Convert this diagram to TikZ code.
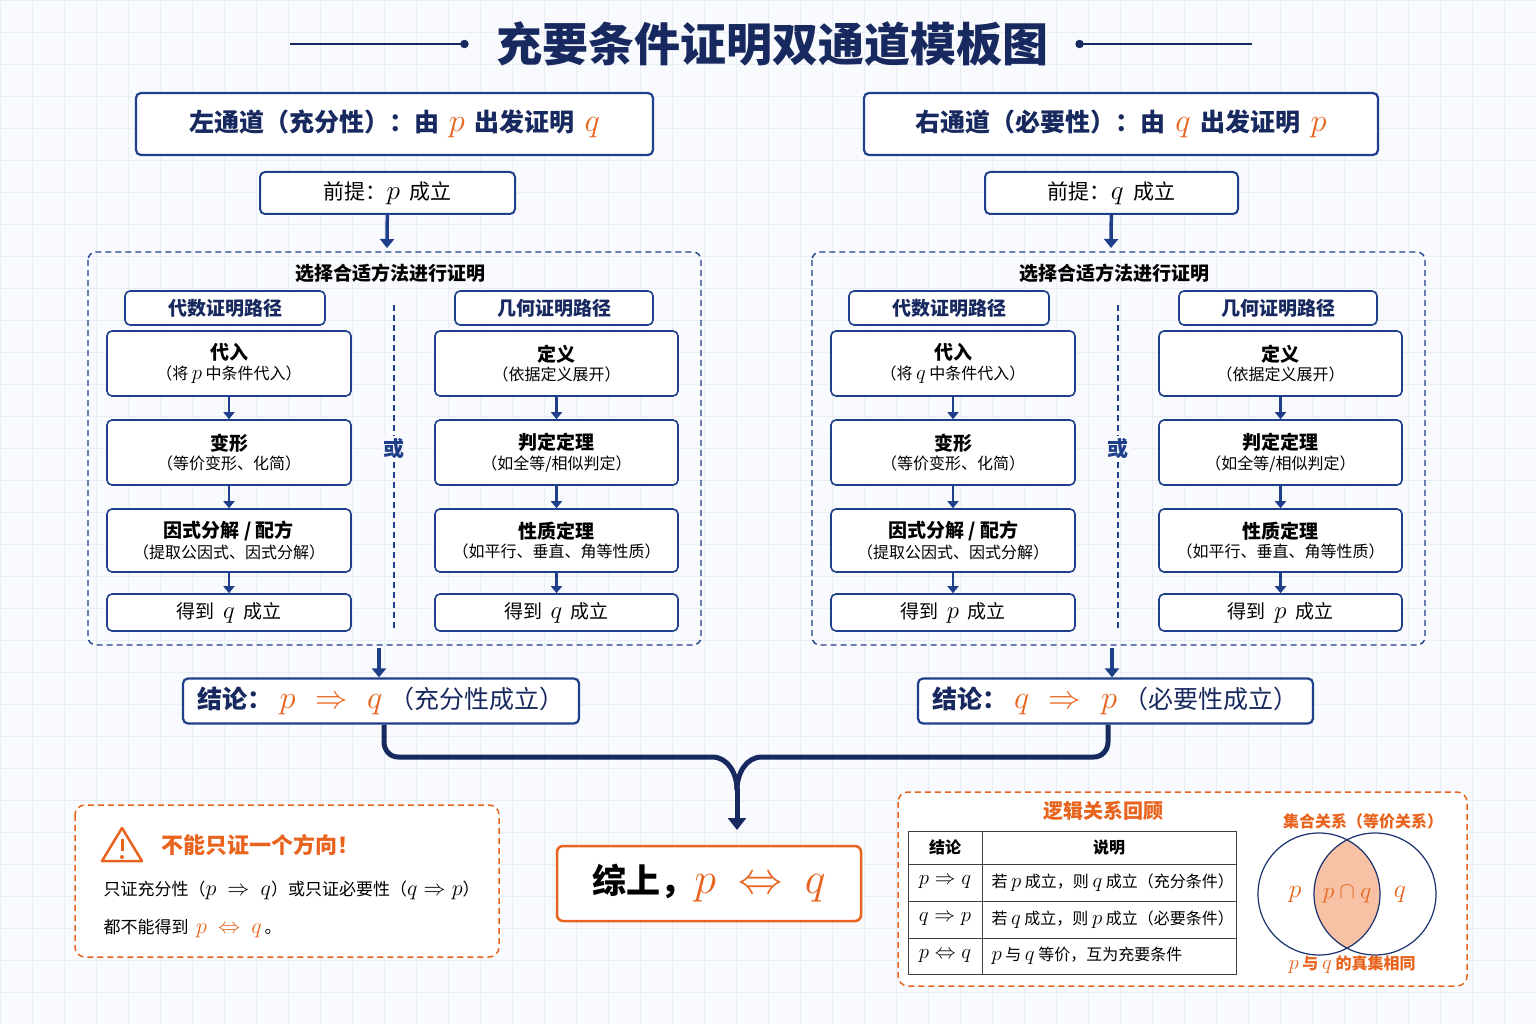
\RequirePackage{fix-cm}
\documentclass[tikz,border=0pt]{standalone}
\usepackage{fontspec}
\usepackage{graphicx}
\setmainfont{Noto Sans CJK SC}
\usetikzlibrary{arrows.meta,calc}
\definecolor{navy}{HTML}{1F3F8A}
\definecolor{dnavy}{HTML}{17295E}
\definecolor{org}{HTML}{E8641E}
\definecolor{bg}{HTML}{F8FAFD}
\definecolor{grid}{HTML}{E9EDF4}
\definecolor{boxbg}{HTML}{FFFFFF}
\definecolor{subbg}{HTML}{EEF3FB}
\newcommand{\vm}[1]{\scalebox{1.3}{$#1$}}
\newcommand{\om}[1]{\textcolor{org}{\vm{#1}}}
\newcommand{\tl}[2]{{\fontsize{19}{24}\selectfont\bfseries #1}\\[3pt]{\fontsize{16}{20}\selectfont #2}}
\tikzset{
 box/.style={draw=navy,line width=1.6pt,rounded corners=5pt,fill=boxbg,align=center,inner sep=0pt,text=black},
 hdr/.style={box,line width=2.2pt,font=\fontsize{25}{30}\selectfont\bfseries,text=dnavy},
 ndash/.style={draw=navy,line width=1.4pt,dash pattern=on 6pt off 4pt,rounded corners=8pt},
 arr/.style={-{Triangle[length=9pt,width=14pt]},draw=navy,line width=3.5pt},
 sarr/.style={-{Triangle[length=7pt,width=11pt]},draw=navy,line width=2.2pt},
 odash/.style={draw=org,line width=1.5pt,dash pattern=on 6pt off 4pt,rounded corners=10pt,fill=white},
}
\newcommand{\bx}[6]{% name, x1,y1,x2,y2, text
 \node[box,minimum width=#4-#2,minimum height=#5-#3] (#1) at ({(#2+#4)/2},{(#3+#5)/2}) {#6};}
\newcommand{\chan}[4]{%
\begin{scope}[xshift=#2]
 \draw[ndash] (88,252) rectangle (701,645);
 \node[font=\fontsize{19}{22}\selectfont\bfseries] (#1t) at (390,273) {选择合适方法进行证明};
 \bx{#1sa}{125}{291}{325}{325}{} \node[font=\fontsize{19}{22}\selectfont\bfseries,text=dnavy] at (#1sa) {代数证明路径};
 \bx{#1sb}{455}{291}{653}{325}{} \node[font=\fontsize{19}{22}\selectfont\bfseries,text=dnavy] at (#1sb) {几何证明路径};
 \bx{#1a1}{107}{331}{351}{396}{\tl{代入}{（将 \vm{#3} 中条件代入）}}
 \bx{#1a2}{107}{420}{351}{485}{\tl{变形}{（等价变形、化简）}}
 \bx{#1a3}{107}{509}{351}{572}{\tl{因式分解 / 配方}{（提取公因式、因式分解）}}
 \bx{#1a4}{107}{594}{351}{631}{\fontsize{19}{22}\selectfont 得到 \ \vm{#4} \ 成立}
 \bx{#1b1}{435}{331}{678}{396}{\tl{定义}{（依据定义展开）}}
 \bx{#1b2}{435}{420}{678}{485}{\tl{判定定理}{（如全等/相似判定）}}
 \bx{#1b3}{435}{509}{678}{572}{\tl{性质定理}{（如平行、垂直、角等性质）}}
 \bx{#1b4}{435}{594}{678}{631}{\fontsize{19}{22}\selectfont 得到 \ \vm{#4} \ 成立}
 \foreach \c in {a,b}{
  \draw[sarr] (#1\c1) -- (#1\c2); \draw[sarr] (#1\c2) -- (#1\c3); \draw[sarr] (#1\c3) -- (#1\c4);}
 \coordinate (#1d1) at (394,305); \coordinate (#1d2) at (394,630);
 \node[font=\fontsize{21}{24}\selectfont\bfseries,text=navy,fill=bg,inner sep=3pt] (#1or) at (394,449) {或};
 \draw[navy,line width=1.3pt,dash pattern=on 6pt off 4pt] (#1d1) -- (#1or.north); \draw[navy,line width=1.3pt,dash pattern=on 6pt off 4pt] (#1or.south) -- (#1d2);
\end{scope}}
\begin{document}
\begin{tikzpicture}[x=1pt,y=-1pt]
\useasboundingbox (0,0) rectangle (1536,1024);
\fill[bg] (0,0) rectangle (1536,1024);
\foreach \i in {0,32,...,1536} \draw[grid,line width=0.6pt] (\i,0) -- (\i,1024);
\foreach \i in {0,32,...,1024} \draw[grid,line width=0.6pt] (0,\i) -- (1536,\i);
\node[font=\fontsize{46}{52}\selectfont\bfseries,text=dnavy] (title) at (772,44) {充要条件证明双通道模板图};
\coordinate (tl) at (290,44); \coordinate (tr) at (1252,44);
\draw[dnavy,line width=1.8pt] (tl) -- ([xshift=-28pt]title.west) node[circle,fill=dnavy,inner sep=3pt]{};
\draw[dnavy,line width=1.8pt] (tr) -- ([xshift=28pt]title.east) node[circle,fill=dnavy,inner sep=3pt]{};
\node[hdr,minimum width=517,minimum height=62] (lh) at (394.5,124) {左通道（充分性）：由 \,\om{p}\, 出发证明 \,\om{q}};
\node[hdr,minimum width=514,minimum height=62] (rh) at (1121,124) {右通道（必要性）：由 \,\om{q}\, 出发证明 \,\om{p}};
\node[box,line width=2pt,minimum width=255,minimum height=42,font=\fontsize{21}{24}\selectfont] (lp) at (387.5,193) {前提：\vm{p} \ 成立};
\node[box,line width=2pt,minimum width=253,minimum height=42,font=\fontsize{21}{24}\selectfont] (rp) at (1111.5,193) {前提：\vm{q} \ 成立};
\chan{L}{0}{p}{q}
\chan{R}{724}{q}{p}
\coordinate (la) at (387,248); \coordinate (ra) at (1111,248);
\draw[arr] (lp) -- (la); \draw[arr] (rp) -- (ra);
\node[hdr,minimum width=396,minimum height=45] (lc) at (381,701) {结论：\;\om{p}\;\; \om{\Rightarrow}\;\; \om{q}\;\mdseries （充分性成立）};
\node[hdr,minimum width=395,minimum height=45] (rc) at (1115.5,701) {结论：\;\om{q}\;\; \om{\Rightarrow}\;\; \om{p}\;\mdseries （必要性成立）};
\coordinate (lb) at (379,648); \coordinate (rb) at (1112,648);
\draw[arr] (lb) -- (lc.north-|lb); \draw[arr] (rb) -- (rc.north-|rb);
\node[draw=org,line width=2.5pt,rounded corners=6pt,fill=white,minimum width=304,minimum height=75,font=\fontsize{34}{40}\selectfont\bfseries] (fin) at (709,883.5) {综上，\om{p\ \Leftrightarrow\ q}};
\coordinate (m) at (737,830);
\draw[dnavy,line width=5pt,line join=round] (lc.south-|384,0) -- (384,742) to[out=-90,in=180] (398,757) -- (712,757) to[out=0,in=90] (737,790);
\draw[dnavy,line width=5pt,line join=round] (rc.south-|1108,0) -- (1108,742) to[out=-90,in=0] (1094,757) -- (762,757) to[out=180,in=90] (737,790);
\draw[-{Triangle[length=12pt,width=18pt]},dnavy,line width=5pt] (737,788) -- (m);
\draw[odash] (75,805) rectangle (499,957);
\draw[org,line width=2.5pt,line join=round] (102,861) -- (122,828) -- (142,861) -- cycle;
\draw[org,line width=3pt] (122,839) -- (122,851); \fill[org] (122,857) circle (2pt);
\node[anchor=west,font=\fontsize{22}{26}\selectfont\bfseries,text=org] (wt) at (158,845) {不能只证一个方向！};
\node[anchor=west,font=\fontsize{17}{20}\selectfont] (w1) at (100,890) {只证充分性（\vm{p\ \Rightarrow\ q}）或只证必要性（\vm{q\Rightarrow p}）};
\node[anchor=west,font=\fontsize{17}{20}\selectfont] (w2) at (100,928) {都不能得到 \ \om{p\ \Leftrightarrow\ q}\,。};
\draw[odash] (898,792) rectangle (1467,986);
\node[font=\fontsize{20}{24}\selectfont\bfseries,text=org] (lt) at (1103,811) {逻辑关系回顾};
\draw[black!75,line width=1pt,fill=white] (908,831) rectangle (1236,974);
\foreach \y in {864,901,938} \draw[black!75,line width=1pt] (908,\y) -- (1236,\y);
\draw[black!75,line width=1pt] (982,831) -- (982,974);
\begin{scope}[font=\fontsize{16}{20}\selectfont]
\node[font=\fontsize{16}{20}\selectfont\bfseries] (t1) at (945,847.5) {结论};
\node[font=\fontsize{16}{20}\selectfont\bfseries] (t2) at (1109,847.5) {说明};
\node (t3) at (945,882.5) {\vm{p\Rightarrow q}};
\node (t4) at (945,919.5) {\vm{q\Rightarrow p}};
\node (t5) at (945,956) {\vm{p\Leftrightarrow q}};
\node[anchor=west] (t6) at (988,882.5) {若 \vm{p} 成立，则 \vm{q} 成立（充分条件）};
\node[anchor=west] (t7) at (988,919.5) {若 \vm{q} 成立，则 \vm{p} 成立（必要条件）};
\node[anchor=west] (t8) at (988,956) {\vm{p} 与 \vm{q} 等价，互为充要条件};
\end{scope}
\node[font=\fontsize{16}{20}\selectfont\bfseries,text=org] (vt) at (1363,821) {集合关系（等价关系）};
\begin{scope}
\clip (1319,894) circle (61);
\fill[org!40] (1375,894) circle (61);
\end{scope}
\draw[navy!80!black,line width=1.2pt] (1319,894) circle (61);
\draw[navy!80!black,line width=1.2pt] (1375,894) circle (61);
\node[font=\fontsize{20}{24}\selectfont] (vp) at (1295,894) {\om{p}};
\node[font=\fontsize{18}{24}\selectfont] (vpq) at (1347,894) {\om{p\cap q}};
\node[font=\fontsize{20}{24}\selectfont] (vq) at (1400,894) {\om{q}};
\node[font=\fontsize{16}{20}\selectfont\bfseries,text=org] (vb) at (1352,965) {\vm{p} 与 \vm{q} 的真集相同};
\end{tikzpicture}
\end{document}
